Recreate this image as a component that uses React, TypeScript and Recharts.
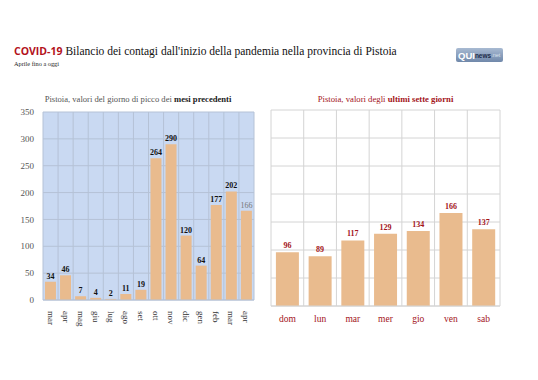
import React from "react";
import { BarChart, Bar, XAxis, YAxis, CartesianGrid, LabelList } from "recharts";

const MONTHS = ["mar", "apr", "mag", "giu", "lug", "ago", "set", "ott", "nov", "dic", "gen", "feb", "mar", "apr"];
const MONTH_PEAKS = [34, 46, 7, 4, 2, 11, 19, 264, 290, 120, 64, 177, 202, 166];
const DAYS = ["dom", "lun", "mar", "mer", "gio", "ven", "sab"];
const DAY_CASES = [96, 89, 117, 129, 134, 166, 137];
const Y_TICKS = [0, 50, 100, 150, 200, 250, 300, 350];

const SERIF = "\"Liberation Serif\", \"DejaVu Serif\", serif";
const SANS = "\"Open Sans\", \"Liberation Sans\", sans-serif";
const DARK_RED = "#a3141a";
const BAR = "#e9bb8e";

const monthData = MONTHS.map((m, i) => ({ key: i, label: m, value: MONTH_PEAKS[i] }));
const dayData = DAYS.map((d, i) => ({ label: d, value: DAY_CASES[i] }));

// gridlines on category boundaries, like Excel
const boundaries = (n: number) => ({ offset }: any) =>
  Array.from({ length: n + 1 }, (_, i) => offset.left + (i * offset.width) / n);

function MonthTick({ x, y, payload }: any) {
  return (
    <text x={x} y={y} transform={`rotate(90 ${x} ${y})`} dx={3} dy={3}
      textAnchor="start" fontSize={9} fill="#333" fontFamily={SERIF}>
      {MONTHS[payload.value]}
    </text>
  );
}

// current (partial) month label is greyed out in the original
function MonthLabel({ x, y, width, value, index }: any) {
  const last = index === MONTH_PEAKS.length - 1;
  return (
    <text x={x + width / 2} y={y - 3} textAnchor="middle" fontSize={8} fontWeight={last ? 400 : 700}
      fill={last ? "#777" : "#111"} fontFamily={SERIF}>
      {value}
    </text>
  );
}

export default function App() {
  return (
    <div style={{ position: "absolute", left: 0, top: 0, width: 538, height: 380, background: "#fff", fontFamily: SERIF, overflow: "hidden" }}>
      <div style={{ position: "absolute", left: 14, top: 44, fontSize: 11.5, whiteSpace: "nowrap", color: "#111" }}>
        <span style={{ color: "#b3121b", fontWeight: 700, fontFamily: SANS, fontSize: 10.5 }}>COVID-19</span>{" "}
        Bilancio dei contagi dall'inizio della pandemia nella provincia di Pistoia
      </div>
      <div style={{ position: "absolute", left: 14, top: 60, fontSize: 6.3, color: "#222" }}>Aprile fino a oggi</div>

      {/* logo */}
      <div style={{ position: "absolute", left: 456, top: 48, width: 47, height: 14, borderRadius: 2,
        background: "linear-gradient(#a8bad2, #7088aa)", fontFamily: "\"Liberation Sans\", sans-serif",
        display: "flex", alignItems: "center", paddingLeft: 2, boxSizing: "border-box", whiteSpace: "nowrap" }}>
        <span style={{ color: "#fff", fontWeight: 700, fontSize: 9.5 }}>QUI</span>
        <span style={{ color: "#1d2c48", fontWeight: 700, fontSize: 6.5 }}>news</span>
        <span style={{ color: "#dbe4f0", fontSize: 5.5 }}>.net</span>
      </div>

      <div style={{ position: "absolute", left: 0, width: 276, top: 94, textAlign: "center", fontSize: 8.6, color: "#555", whiteSpace: "nowrap" }}>
        Pistoia, valori del giorno di picco dei <b style={{ color: "#222" }}>mesi precedenti</b>
      </div>
      <div style={{ position: "absolute", left: 271, width: 229, top: 94, textAlign: "center", fontSize: 8.7, color: DARK_RED, whiteSpace: "nowrap" }}>
        Pistoia, valori degli <b>ultimi sette giorni</b>
      </div>

      <div style={{ position: "absolute", left: 0, top: 100 }}>
        <BarChart width={265} height={240} data={monthData} margin={{ top: 12, right: 11, left: 0, bottom: 0 }} barCategoryGap="13%">
          <CartesianGrid fill="#c9d9f2" stroke="#b5c2d6" horizontal vertical
            verticalCoordinatesGenerator={boundaries(MONTHS.length)} />
          <XAxis dataKey="key" height={40} tickLine={false} axisLine={{ stroke: "#b5c2d6" }} interval={0} tick={<MonthTick />} />
          <YAxis width={43} domain={[0, 350]} ticks={Y_TICKS} tickSize={0} tickMargin={9} axisLine={false}
            tick={{ fontSize: 9, fill: "#555", fontFamily: SERIF }} />
          <Bar dataKey="value" fill={BAR} isAnimationActive={false}>
            <LabelList dataKey="value" content={<MonthLabel />} />
          </Bar>
        </BarChart>
      </div>

      <div style={{ position: "absolute", left: 262, top: 100 }}>
        <BarChart width={246} height={235} data={dayData} margin={{ top: 10, right: 8, left: 9, bottom: 0 }} barCategoryGap="15%">
          <CartesianGrid fill="#fff" stroke="#d4d4d4" horizontal vertical
            verticalCoordinatesGenerator={boundaries(DAYS.length)} />
          <XAxis dataKey="label" height={29} tickLine={false} axisLine={{ stroke: "#d4d4d4" }} interval={0} tickMargin={3}
            tick={{ fontSize: 9.5, fill: DARK_RED, fontFamily: SERIF }} />
          <YAxis hide domain={[0, 350]} ticks={Y_TICKS} />
          <Bar dataKey="value" fill={BAR} isAnimationActive={false}>
            <LabelList dataKey="value" position="top" offset={4} fontSize={8} fontWeight={700} fill={DARK_RED} fontFamily={SERIF} />
          </Bar>
        </BarChart>
      </div>
    </div>
  );
}
